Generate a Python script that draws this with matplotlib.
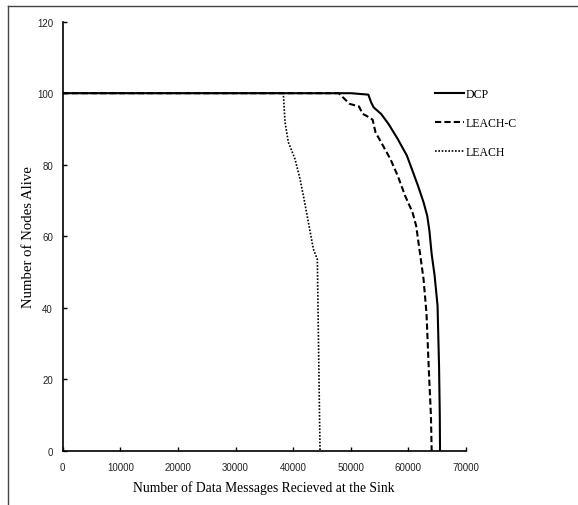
import matplotlib
matplotlib.use("Agg")
import matplotlib.pyplot as plt
from matplotlib.lines import Line2D

# Data
dcp_x = [0, 20000, 40000, 50000, 53050, 53540, 53990, 55270, 56550, 58150, 59750, 60390,
         61670, 62630, 63270, 63650, 64040, 64550, 65060, 65320, 65450, 65490]
dcp_y = [100, 100, 100, 100, 99.6, 97.4, 96, 94.2, 91.4, 87.2, 82.5, 79.7,
         74.1, 69.5, 65.7, 61.5, 55, 49, 40.6, 23.8, 10, 0]

leachc_x = [0, 20000, 40000, 47900, 49820, 51420, 52070, 52700, 53790, 54300, 54950, 56870,
            58150, 59430, 60710, 61350, 61990, 62630, 63140, 63590, 63910, 64040]
leachc_y = [100, 100, 100, 100, 97, 96.3, 94.2, 93.7, 92.6, 89, 87.2, 81.6,
            76.9, 71.3, 66.7, 62.9, 55.5, 48, 38.5, 21, 10, 0]

leach_x = [0, 20000, 38290, 38590, 39160, 40320, 41190, 41890, 42640, 43510, 44200, 44400, 44660]
leach_y = [100, 100, 100, 91.9, 86.3, 81.6, 76, 70.4, 63.9, 56.4, 53.5, 30, 0]

series_labels = ["DCP", "LEACH-C", "LEACH"]
xticks = [0, 10000, 20000, 30000, 40000, 50000, 60000, 70000]
yticks = [0, 20, 40, 60, 80, 100, 120]

W, H = 578, 506
fig = plt.figure(figsize=(W / 100, H / 100), dpi=100)
ax_l, ax_r, ax_b, ax_t = 62.7, 466, 451.7, 22.7
ax = fig.add_axes([ax_l / W, 1 - ax_b / H, (ax_r - ax_l) / W, (ax_b - ax_t) / H])

ax.plot(dcp_x, dcp_y, color="black", lw=1.5, ls="-", label=series_labels[0])
ax.plot(leachc_x, leachc_y, color="black", lw=1.5, ls=(0, (3, 1.5)), label=series_labels[1])
ax.plot(leach_x, leach_y, color="black", lw=1.2, ls=(0, (1, 1)), label=series_labels[2])

ax.set_xlim(0, 70000)
ax.set_ylim(0, 120)
ax.set_xticks(xticks)
ax.set_yticks(yticks)
ax.set_xticklabels([str(t) for t in xticks])
ax.set_yticklabels([str(t) for t in yticks])

for s in ["top", "right"]:
    ax.spines[s].set_visible(False)
for s in ["left", "bottom"]:
    ax.spines[s].set_linewidth(1.2)
    ax.spines[s].set_color("black")

ax.tick_params(axis="both", direction="in", length=3, width=1, colors="black",
               labelcolor="#222222", labelsize=7)
ax.tick_params(axis="x", pad=8)
ax.tick_params(axis="y", pad=7)
for lab in ax.get_xticklabels() + ax.get_yticklabels():
    lab.set_family("Liberation Sans")

aw, ah = ax_r - ax_l, ax_b - ax_t
ax.set_xlabel("Number of Data Messages Recieved at the Sink", family="Liberation Serif",
              fontsize=9.8)
ax.xaxis.set_label_coords((264 - ax_l) / aw, (ax_b - 481) / ah)
ax.set_ylabel("Number of Nodes Alive", family="Liberation Serif", fontsize=10.6)
ax.yaxis.set_label_coords((35 - ax_l) / aw, 0.5)

leg = ax.legend(loc="upper left", bbox_to_anchor=((435 - ax_l) / aw, (ax_b - 89) / ah),
                frameon=False, handlelength=2.45, handletextpad=0.15, labelspacing=1.45,
                borderaxespad=0, borderpad=0,
                prop={"family": "Liberation Serif", "size": 8.5})

# partial frame (top and left) seen in the reference
fig.add_artist(Line2D([8 / W, 1], [1 - 7 / H, 1 - 7 / H], color="#444444", lw=1,
                      transform=fig.transFigure))
fig.add_artist(Line2D([8 / W, 8 / W], [0, 1 - 7 / H], color="#444444", lw=1,
                      transform=fig.transFigure))

fig.savefig("out.png", dpi=100)
